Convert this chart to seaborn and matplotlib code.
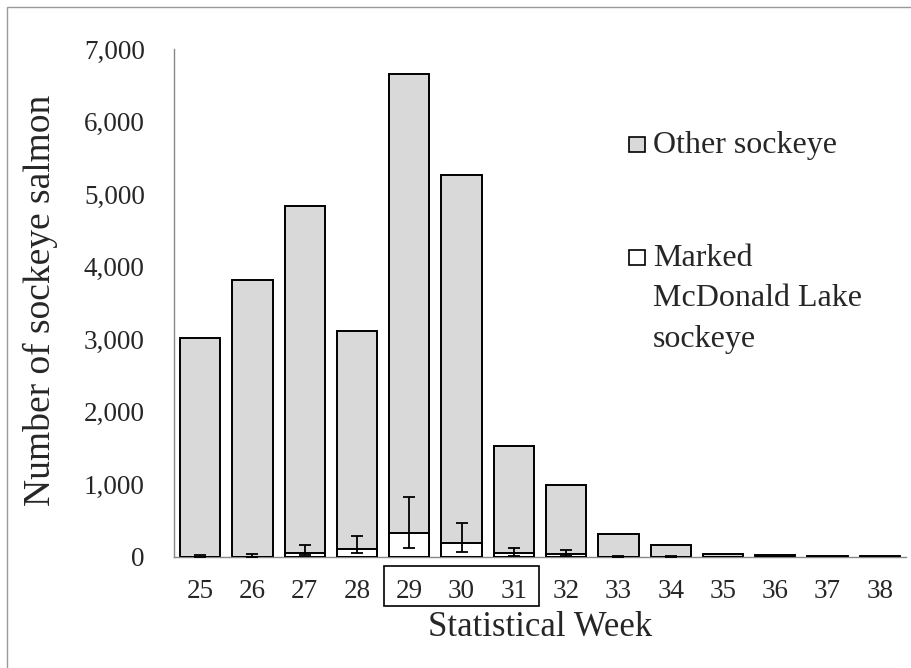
import matplotlib
matplotlib.use("Agg")
import matplotlib.pyplot as plt
import seaborn as sns
import numpy as np
import pandas as pd
from matplotlib.patches import Rectangle

weeks = ["25", "26", "27", "28", "29", "30", "31", "32", "33", "34", "35", "36", "37", "38"]
other_sockeye = [3015, 3815, 4770, 3015, 6335, 5070, 1480, 955, 315, 157, 45, 25, 10, 20]
marked_sockeye = [5, 5, 60, 105, 325, 190, 50, 35, 5, 3, 0, 0, 0, 0]
marked_lower = [0, 0, 25, 50, 130, 70, 15, 20, 0, 0, 0, 0, 0, 0]
marked_upper = [30, 35, 170, 290, 820, 475, 125, 90, 12, 8, 0, 0, 0, 0]

sns.set_style("white")
plt.rcParams["font.family"] = ["Liberation Serif", "DejaVu Serif"]

df = pd.DataFrame({
    "week": weeks,
    "total": np.array(other_sockeye) + np.array(marked_sockeye),
    "marked": marked_sockeye,
})

fig = plt.figure(figsize=(9.12, 6.68), dpi=100)
ax = fig.add_axes([174/912, 1-557/668, (906-174)/912, (557-49)/668])

sns.barplot(data=df, x="week", y="total", color="#d9d9d9", edgecolor="black",
            linewidth=1.4, width=0.77, saturation=1, ax=ax, zorder=2)
sns.barplot(data=df, x="week", y="marked", color="white", edgecolor="black",
            linewidth=1.4, width=0.77, saturation=1, ax=ax, zorder=3)

x = np.arange(len(weeks))
m = np.array(marked_sockeye)
lo = m - np.array(marked_lower)
hi = np.array(marked_upper) - m
mask = np.array(marked_upper) > 0
ax.errorbar(x[mask], m[mask], yerr=[lo[mask], hi[mask]], fmt="none", ecolor="black",
            elinewidth=1.3, capsize=4, capthick=1.3, zorder=4)

ax.set_xlim(-0.5, len(weeks) - 0.5)
ax.set_ylim(0, 7000)
ax.set_yticks(np.arange(0, 7001, 1000))
ax.set_yticklabels([f"{v:,}" for v in range(0, 7001, 1000)])
ax.set_xticks(x)
ax.set_xticklabels(weeks)
ax.set_xticks(np.arange(-0.5, len(weeks), 1.0), minor=True)
ax.tick_params(axis="x", which="major", length=0, pad=16, labelsize=19.5)
ax.tick_params(axis="x", which="minor", length=8, width=1, color="#888888", direction="out")
ax.tick_params(axis="y", length=8, width=1, color="#888888", direction="out", pad=13, labelsize=19.5)
ax.set_xlabel("")
ax.set_ylabel("")
for s in ["top", "right"]:
    ax.spines[s].set_visible(False)
for s in ["left", "bottom"]:
    ax.spines[s].set_color("#888888")
    ax.spines[s].set_linewidth(1)

# box around weeks 29-31
fig.patches.append(Rectangle((384/912, 1-606/668), (539-384)/912, (606-566)/668,
                             transform=fig.transFigure, fill=False, edgecolor="black",
                             linewidth=1.2))

fig.text(540/912, 1-627/668, "Statistical Week", ha="center", va="center", fontsize=25)
fig.text(40/912, 1-300/668, "Number of sockeye salmon", ha="center", va="center",
         rotation=90, fontsize=27)

# legend
fig.patches.append(Rectangle((629/912, 1-152/668), 16/912, 15/668, transform=fig.transFigure,
                             facecolor="#d9d9d9", edgecolor="black", linewidth=1.2))
fig.text(653/912, 1-145/668, "Other sockeye", ha="left", va="center", fontsize=23)
fig.patches.append(Rectangle((629/912, 1-265/668), 16/912, 15/668, transform=fig.transFigure,
                             facecolor="white", edgecolor="black", linewidth=1.2))
fig.text(653/912, 1-258/668, "Marked", ha="left", va="center", fontsize=23)
fig.text(653/912, 1-299/668, "McDonald Lake", ha="left", va="center", fontsize=23)
fig.text(653/912, 1-340/668, "sockeye", ha="left", va="center", fontsize=23)

# figure border
fig.patches.append(Rectangle((7/912, -0.01), 1.0, 1 - 7/668 + 0.01, transform=fig.transFigure,
                             fill=False, edgecolor="#999999", linewidth=1))

fig.savefig("out.png", dpi=100)
